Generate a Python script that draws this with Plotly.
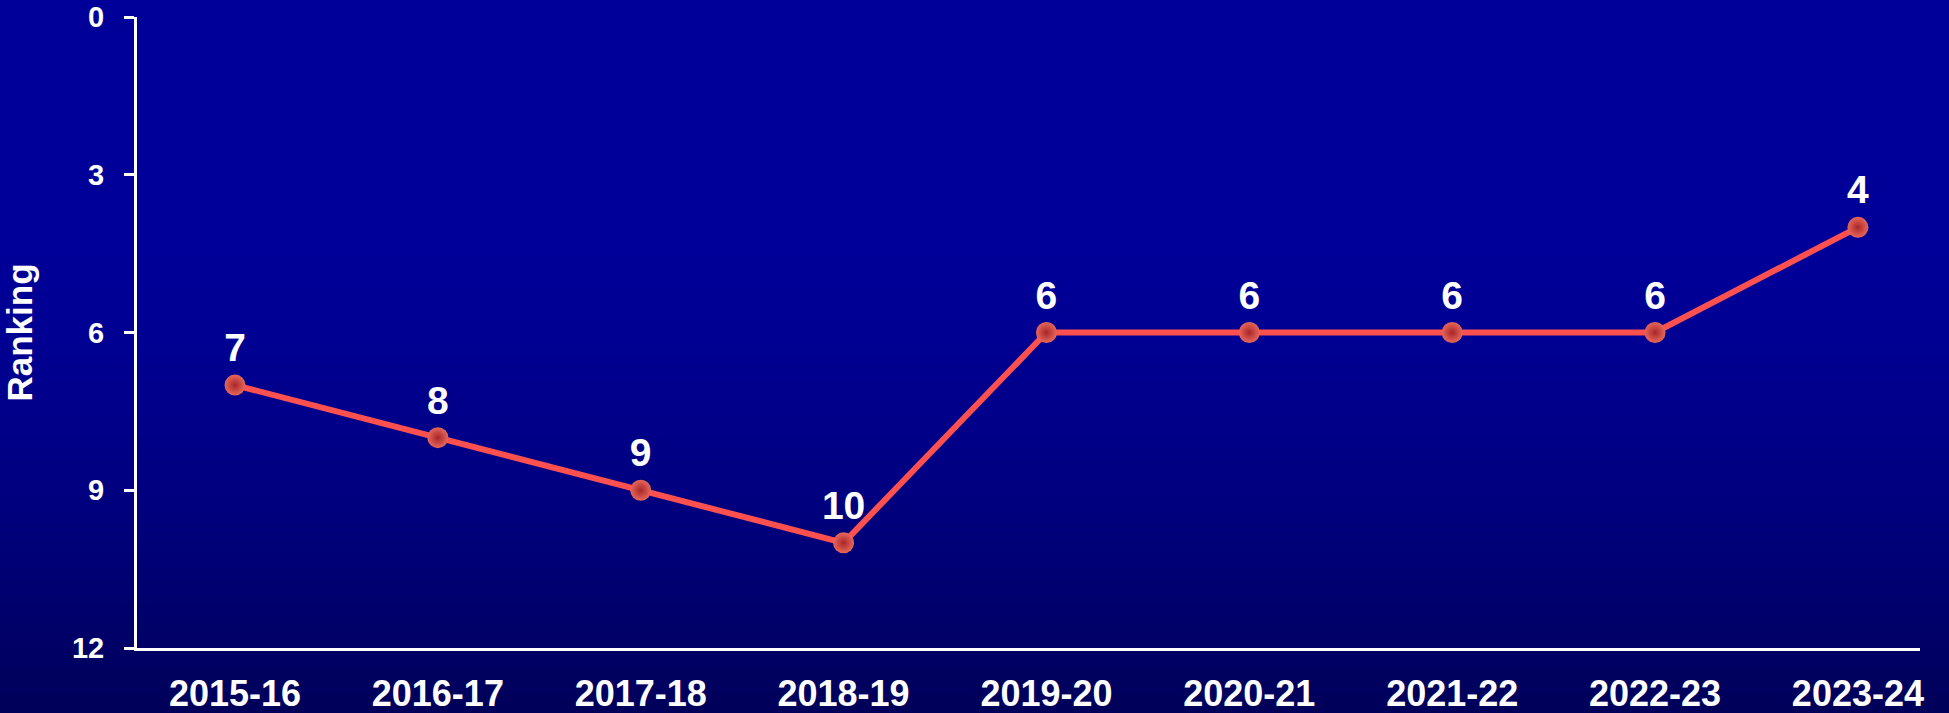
import plotly.graph_objects as go

seasons = ["2015-16", "2016-17", "2017-18", "2018-19", "2019-20",
           "2020-21", "2021-22", "2022-23", "2023-24"]
ranking = [7, 8, 9, 10, 6, 6, 6, 6, 4]
y_ticks = [0, 3, 6, 9, 12]

W, H = 1949, 713
ML, MR, MT, MB = 137, 29, 17, 65
pw, ph = W - ML - MR, H - MT - MB

fig = go.Figure()
fig.add_trace(go.Scatter(
    x=seasons, y=ranking, mode="lines+markers+text",
    text=[str(v) for v in ranking], textposition="top center",
    textfont=dict(family="Liberation Sans, Arial", size=39, color="white", weight="bold"),
    line=dict(color="#ff5050", width=6),
    marker=dict(size=21, color="#e8675a",
                gradient=dict(type="radial", color="#a8262a"),
                line=dict(width=0)),
    cliponaxis=False, showlegend=False,
))

# background gradient via stacked strips
shapes = []
n = 80
x0 = -ML / pw
x1 = (W - ML) / pw
for i in range(n):
    t0 = i / n
    t1 = (i + 1) / n
    tm = (t0 + t1) / 2
    k = max(0.0, (tm - 0.3) / 0.7)
    b = int(round(153 - 64 * k ** 1.6))
    ytop = (H - MB - t0 * H) / ph
    ybot = (H - MB - t1 * H) / ph
    shapes.append(dict(type="rect", xref="paper", yref="paper",
                       x0=x0, x1=x1, y0=ybot, y1=ytop + 0.002,
                       fillcolor=f"rgb(0,0,{b})", line=dict(width=0),
                       layer="below"))

fig.update_layout(
    width=W, height=H,
    margin=dict(l=ML, r=MR, t=MT, b=MB, autoexpand=False),
    paper_bgcolor="#000080", plot_bgcolor="rgba(0,0,0,0)",
    shapes=shapes,
    font=dict(family="Liberation Sans, Arial", color="white"),
    xaxis=dict(
        type="category", range=[-0.483, 8.306], automargin=False,
        showgrid=False, zeroline=False,
        showline=True, linecolor="white", linewidth=3,
        ticks="", ticklabelstandoff=12,
        tickfont=dict(size=36, color="white", weight="bold"),
    ),
    yaxis=dict(
        range=[12, 0], tickvals=y_ticks, automargin=False,
        showgrid=False, zeroline=False,
        showline=True, linecolor="white", linewidth=3,
        ticks="outside", ticklen=10, tickwidth=3, tickcolor="white",
        ticklabelstandoff=14,
        tickfont=dict(size=29, color="white", weight="bold"),
        title=dict(text="Ranking", standoff=30,
                   font=dict(size=35, color="white", weight="bold")),
    ),
)

fig.write_html(
    "out.html",
    config={"displayModeBar": False},
    post_script="document.body.style.margin='0';document.body.style.overflow='hidden';",
)
